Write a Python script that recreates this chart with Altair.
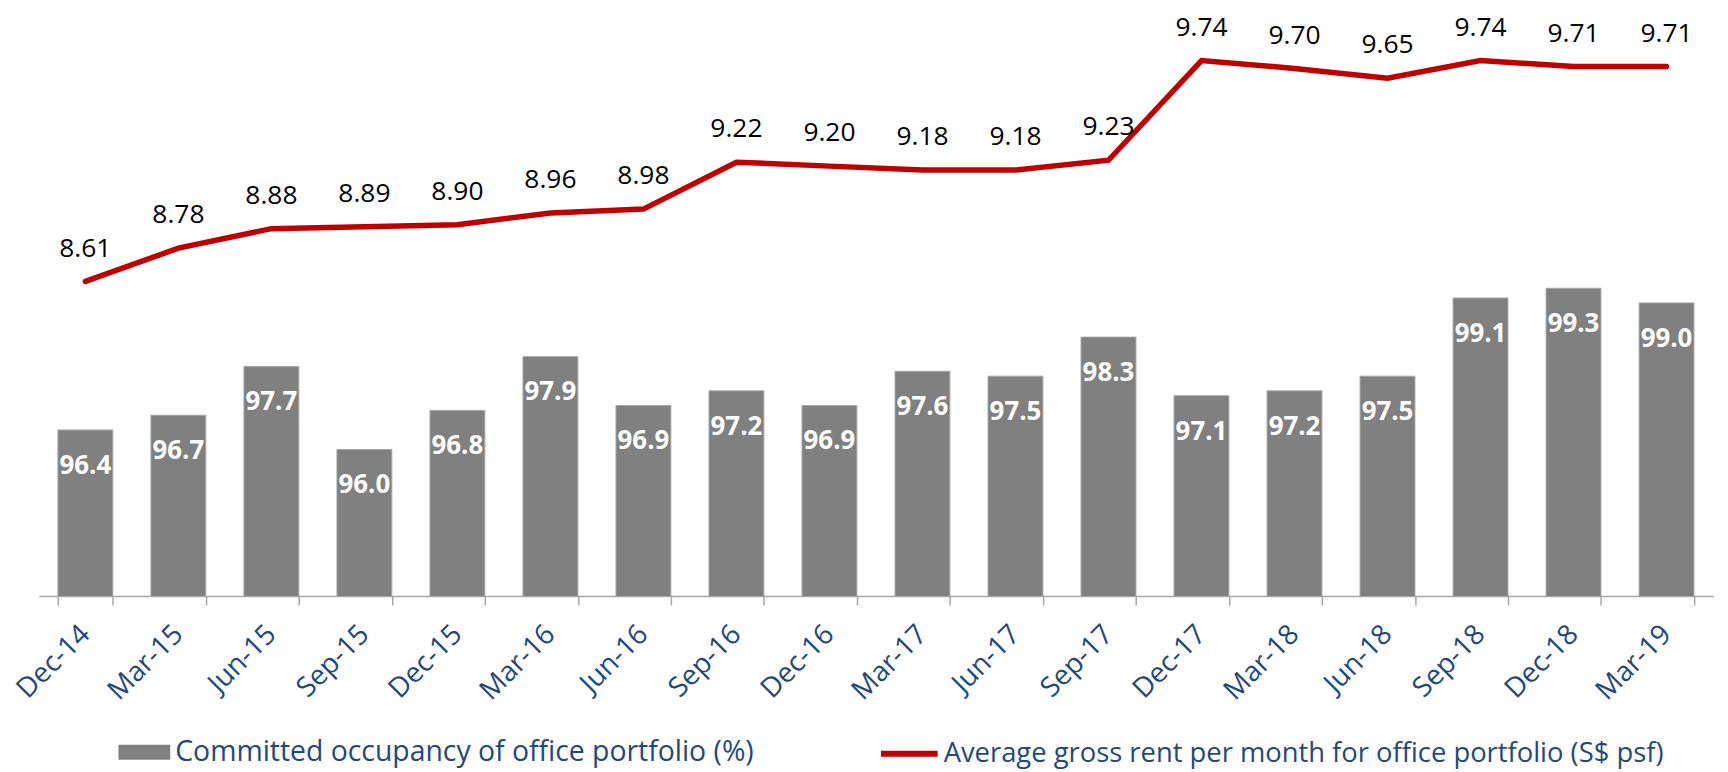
import altair as alt
import pandas as pd

quarters = ["Dec-14", "Mar-15", "Jun-15", "Sep-15", "Dec-15", "Mar-16", "Jun-16", "Sep-16",
            "Dec-16", "Mar-17", "Jun-17", "Sep-17", "Dec-17", "Mar-18", "Jun-18", "Sep-18",
            "Dec-18", "Mar-19"]
occupancy = [96.4, 96.7, 97.7, 96.0, 96.8, 97.9, 96.9, 97.2, 96.9, 97.6, 97.5, 98.3,
             97.1, 97.2, 97.5, 99.1, 99.3, 99.0]
rent = [8.61, 8.78, 8.88, 8.89, 8.90, 8.96, 8.98, 9.22, 9.20, 9.18, 9.18, 9.23,
        9.74, 9.70, 9.65, 9.74, 9.71, 9.71]

bar_name = "Committed occupancy of office portfolio (%)"
line_name = "Average gross rent per month for office portfolio (S$ psf)"

df = pd.DataFrame({
    "quarter": quarters,
    "occupancy": occupancy,
    "rent": rent,
    "bar_series": bar_name,
    "line_series": line_name,
})

FONT = "Open Sans"
BLUE = "#1F497D"

x_enc = alt.X(
    "quarter:N",
    sort=quarters,
    title=None,
    scale=alt.Scale(paddingInner=0.41, paddingOuter=0.205),
    axis=alt.Axis(
        labelAngle=-45,
        labelAlign="right",
        labelBaseline="middle",
        labelFont=FONT,
        labelFontSize=28,
        labelColor=BLUE,
        labelPadding=25,
        labelLimit=400,
        labelOverlap=False,
        tickBand="extent",
        tickSize=9,
        tickColor="#A6A6A6",
        tickWidth=1.5,
        domainColor="#A6A6A6",
        domainWidth=1.5,
        grid=False,
    ),
)

bars = alt.Chart(df).mark_bar(stroke="#A6A6A6", strokeWidth=1, clip=True).encode(
    x=x_enc,
    y=alt.Y("occupancy:Q", scale=alt.Scale(domain=[93, 105], zero=False, nice=False), axis=None),
    color=alt.Color(
        "bar_series:N",
        scale=alt.Scale(domain=[bar_name], range=["#808080"]),
        legend=alt.Legend(
            title=None,
            orient="none",
            legendX=80,
            legendY=720,
            symbolType="M-1,-0.288H1V0.288H-1Z",
            symbolSize=2704,
            symbolStrokeWidth=0,
            labelFont=FONT,
            labelFontSize=28.5,
            labelColor=BLUE,
            labelOffset=5,
            labelLimit=900,
            padding=0,
        ),
    ),
)

bar_text = alt.Chart(df).mark_text(
    dy=36, color="white", font=FONT, fontSize=26, fontWeight="bold"
).encode(
    x=alt.X("quarter:N", sort=quarters),
    y=alt.Y("occupancy:Q"),
    text=alt.Text("occupancy:Q", format=".1f"),
)

line = alt.Chart(df).mark_line(strokeWidth=5.5, strokeCap="round").encode(
    x=alt.X("quarter:N", sort=quarters),
    y=alt.Y("rent:Q", scale=alt.Scale(domain=[7, 10], zero=False, nice=False), axis=None),
    stroke=alt.Stroke(
        "line_series:N",
        scale=alt.Scale(domain=[line_name], range=["#C00000"]),
        legend=alt.Legend(
            title=None,
            orient="none",
            legendX=843,
            legendY=716,
            symbolType="stroke",
            symbolSize=3249,
            symbolStrokeWidth=6,
            labelFont=FONT,
            labelFontSize=27.5,
            labelColor=BLUE,
            labelOffset=3,
            labelLimit=900,
            padding=0,
        ),
    ),
)

line_text = alt.Chart(df).mark_text(
    dy=-33, color="black", font=FONT, fontSize=26.5
).encode(
    x=alt.X("quarter:N", sort=quarters),
    y=alt.Y("rent:Q"),
    text=alt.Text("rent:Q", format=".2f"),
)

left = alt.layer(bars, bar_text)
right = alt.layer(line, line_text)

chart = alt.layer(left, right).resolve_scale(
    y="independent", color="independent", stroke="independent"
).properties(
    width=1682,
    height=589,
    autosize=alt.AutoSizeParams(type="none"),
    padding={"left": 31, "top": 0, "right": 7, "bottom": 175},
).configure_view(stroke=None)

chart.save("out.html", embed_options={"renderer": "svg", "actions": False})
